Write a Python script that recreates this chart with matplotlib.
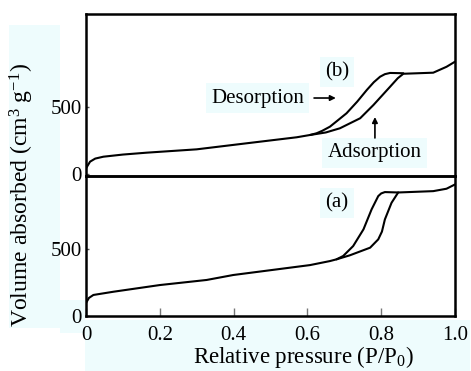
import matplotlib
matplotlib.use("Agg")
import matplotlib.pyplot as plt
from matplotlib.patches import Rectangle

plt.rcParams["font.family"] = ["Liberation Serif", "DejaVu Serif"]
plt.rcParams["mathtext.fontset"] = "custom"
plt.rcParams["mathtext.rm"] = "Liberation Serif"
plt.rcParams["mathtext.it"] = "Liberation Serif:italic"

# Sample (b): N2 isotherm
ads_b_p = [0.0, 0.011, 0.025, 0.047, 0.10, 0.164, 0.30, 0.435, 0.571, 0.607,
           0.650, 0.688, 0.743, 0.779, 0.824, 0.845, 0.860, 0.941, 0.977, 1.0]
ads_b_v = [42, 92, 115, 129, 145, 159, 184, 229, 274, 291,
           310, 341, 416, 515, 651, 715, 748, 756, 800, 838]
des_b_p = [0.860, 0.824, 0.810, 0.797, 0.780, 0.761, 0.735, 0.706, 0.680, 0.661, 0.640, 0.625, 0.607]
des_b_v = [752, 754, 745, 726, 685, 627, 540, 453, 395, 353, 322, 304, 291]

# Sample (a): N2 isotherm
ads_a_p = [0.0, 0.008, 0.02, 0.074, 0.2, 0.327, 0.399, 0.607, 0.661, 0.679,
           0.715, 0.770, 0.792, 0.802, 0.810, 0.828, 0.846, 0.941, 0.977, 1.0]
ads_a_v = [97, 135, 157, 181, 231, 269, 306, 380, 410, 423,
           453, 510, 572, 630, 721, 845, 922, 932, 950, 982]
des_a_p = [0.846, 0.810, 0.800, 0.792, 0.774, 0.752, 0.724, 0.697, 0.679]
des_a_v = [922, 925, 915, 895, 796, 647, 522, 448, 423]

y_ticks = [0, 500]
x_ticks = [0, 0.2, 0.4, 0.6, 0.8, 1.0]
x_tick_labels = ["0", "0.2", "0.4", "0.6", "0.8", "1.0"]

W, H = 471, 371
fig = plt.figure(figsize=(W / 100, H / 100), dpi=100)

hl = "#eefcfd"


def px_rect(x0, y0, x1, y1):
    fig.patches.append(Rectangle((x0 / W, 1 - y1 / H), (x1 - x0) / W, (y1 - y0) / H,
                                 transform=fig.transFigure, facecolor=hl,
                                 edgecolor="none", zorder=-5))


px_rect(9, 25, 60, 328)
px_rect(60, 300, 85, 333)
px_rect(85, 320, 470, 371)

left, right = 86 / W, 455 / W
ax_b = fig.add_axes([left, 1 - 176 / H, right - left, (176 - 14) / H])
ax_a = fig.add_axes([left, 1 - 316 / H, right - left, (316 - 176) / H])

lw = 1.5
style = dict(color="black", lw=lw, solid_capstyle="round", solid_joinstyle="round")
ax_b.plot(ads_b_p, ads_b_v, **style)
ax_b.plot(des_b_p, des_b_v, **style)
ax_a.plot(ads_a_p, ads_a_v, **style)
ax_a.plot(des_a_p, des_a_v, **style)

ax_b.set_ylim(-15, 1194)
ax_a.set_ylim(0, 1045)

fs = 15
for ax in (ax_b, ax_a):
    ax.set_xlim(0, 1.0)
    ax.set_facecolor("none")
    for s in ax.spines.values():
        s.set_linewidth(1.8)
    ax.set_yticks(y_ticks)
    ax.set_yticklabels([str(v) for v in y_ticks])
    ax.tick_params(axis="y", direction="in", length=2, width=1, color="#555555",
                   labelsize=fs, pad=3)

ax_b.set_xticks([])
ax_a.set_xticks(x_ticks)
ax_a.set_xticklabels(x_tick_labels)
ax_a.tick_params(axis="x", direction="in", length=6, width=1, color="#777777",
                 labelsize=fs, pad=7)

box = dict(boxstyle="square,pad=0.25", fc=hl, ec="none")
arrow = dict(arrowstyle="-|>", color="black", lw=1.2, mutation_scale=8,
             shrinkA=0, shrinkB=0)

# panel labels and branch annotations
ax_b.text(0.68, 760, "(b)", fontsize=fs, ha="center", va="center", bbox=box)
ax_b.text(0.465, 567, "Desorption", fontsize=fs, ha="center", va="center", bbox=box)
ax_b.annotate("", xy=(0.677, 567), xytext=(0.618, 567), arrowprops=arrow)
ax_b.text(0.782, 157, "Adsorption", fontsize=fs, ha="center", va="center", bbox=box)
ax_b.annotate("", xy=(0.783, 425), xytext=(0.783, 269), arrowprops=arrow)
ax_a.text(0.68, 841, "(a)", fontsize=fs, ha="center", va="center", bbox=box)

fig.text(22 / W, 1 - 195 / H, "Volume absorbed (cm$^{3}$ g$^{-1}$)", rotation=90,
         ha="center", va="center", fontsize=17)
fig.text(303 / W, 1 - 357 / H, "Relative pressure (P/P$_{0}$)",
         ha="center", va="center", fontsize=16.5)

fig.savefig("out.png", dpi=100)
